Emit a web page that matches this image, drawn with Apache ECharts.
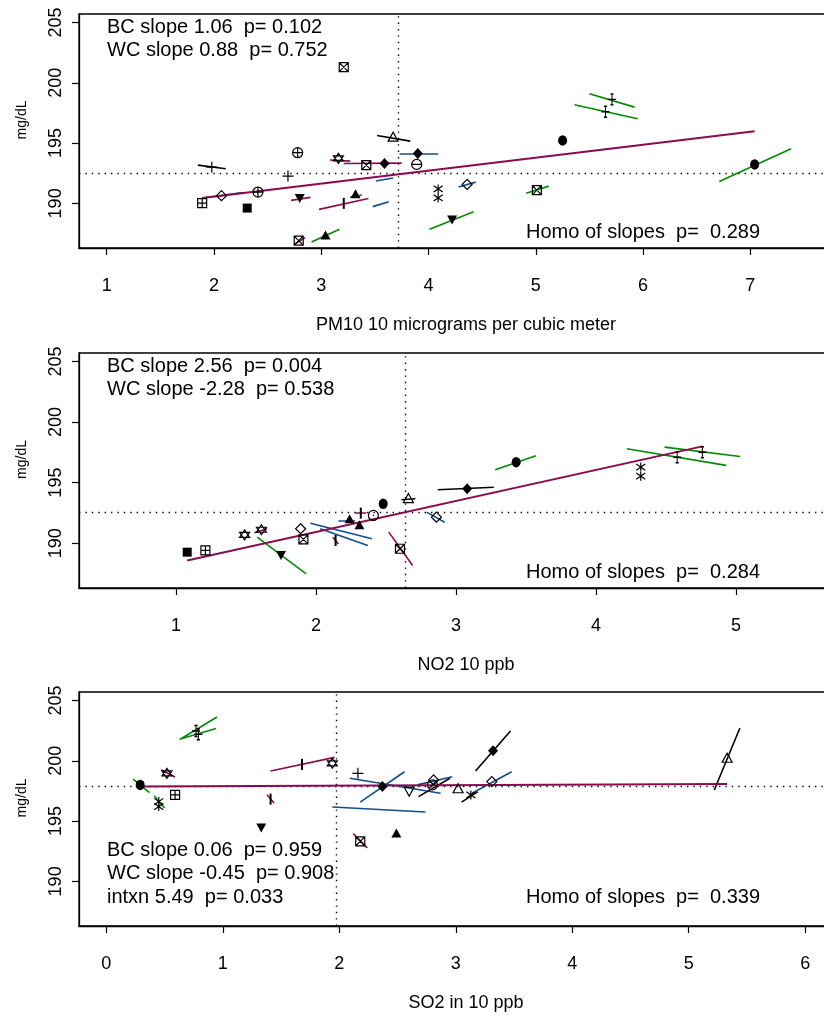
<!DOCTYPE html>
<html>
<head>
<meta charset="utf-8">
<title>BC / WC slopes</title>
<script src="https://cdn.jsdelivr.net/npm/echarts@6/dist/echarts.min.js"></script>
<style>
  html, body { margin: 0; padding: 0; background: #fff; }
  #main { width: 824px; height: 1017px; }
</style>
</head>
<body>
<div id="main"></div>
<script>
// ---- data ----
// points: [x, y, marker]
var pm10Pts = [
  [3.21, 201.29, 'sqx'], [3.67, 195.53, 'tri'], [2.78, 194.20, 'oplus'], [3.16, 193.73, 'david'],
  [3.42, 193.17, 'sqx'], [3.59, 193.31, 'diaF'], [3.90, 194.14, 'diaF'], [3.89, 193.23, 'ominus'],
  [1.98, 193.00, 'plus'], [2.69, 192.26, 'plus'], [1.89, 190.02, 'sqplus'], [2.07, 190.64, 'dia'],
  [2.41, 190.94, 'oplus'], [2.31, 189.61, 'sqF'], [2.80, 190.41, 'triDF'], [3.21, 190.00, 'vbar'],
  [3.32, 190.80, 'triF'], [2.79, 186.91, 'sqx'], [3.04, 187.37, 'triF'], [4.09, 191.20, 'ast'],
  [4.09, 190.45, 'ast'], [4.36, 191.57, 'dia'], [5.01, 191.10, 'sqx'], [4.22, 188.62, 'triDF'],
  [5.25, 195.22, 'dot'], [5.71, 198.62, 'icross'], [5.65, 197.60, 'icross'], [7.04, 193.23, 'dot']
];
// within-city segments: [x1, y1, x2, y2, region]
var pm10Segs = [
  [3.52, 195.63, 3.83, 195.16, 'k'], [3.08, 193.59, 3.27, 193.50, 'm'], [3.21, 193.31, 3.75, 193.34, 'm'],
  [3.73, 194.08, 4.09, 194.08, 'b'], [1.85, 193.17, 2.11, 192.87, 'k'], [1.89, 190.44, 2.27, 190.89, 'b'],
  [2.72, 190.25, 2.90, 190.50, 'm'], [2.98, 189.50, 3.44, 190.41, 'm'], [3.27, 190.52, 3.38, 190.69, 'g'],
  [3.51, 191.85, 3.67, 192.10, 'b'], [3.48, 189.73, 3.63, 190.14, 'b'], [2.75, 186.60, 2.85, 187.16, 'm'],
  [2.91, 186.79, 3.17, 187.85, 'g'], [4.28, 191.35, 4.44, 191.76, 'b'], [4.91, 190.83, 5.12, 191.43, 'g'],
  [4.01, 187.85, 4.42, 189.31, 'g'], [5.50, 199.09, 5.92, 197.98, 'g'], [5.36, 198.18, 5.95, 197.02, 'g'],
  [6.71, 191.82, 7.38, 194.53, 'g']
];
var pm10Bc = [[1.89, 190.44], [7.04, 195.97]];
var pm10Ref = [3.72, 192.49];
var pm10Ticks = [1, 2, 3, 4, 5, 6, 7];
var pm10Notes = ['BC slope 1.06  p= 0.102', 'WC slope 0.88  p= 0.752'];
var pm10Homo = 'Homo of slopes  p=  0.289';
var pm10Title = 'PM10 10 micrograms per cubic meter';

var no2Pts = [
  [1.08, 189.26, 'sqF'], [1.21, 189.40, 'sqplus'], [1.49, 190.69, 'david'], [1.61, 191.11, 'david'],
  [1.89, 191.19, 'dia'], [1.91, 190.31, 'sqx'], [1.75, 188.98, 'triDF'], [2.24, 192.01, 'triF'],
  [2.31, 191.52, 'triF'], [2.14, 190.22, 'vbar'], [2.32, 192.48, 'vbar'], [2.41, 192.29, 'odot'],
  [2.48, 193.25, 'dot'], [2.66, 193.72, 'tri'], [2.60, 189.54, 'sqx'], [2.86, 192.15, 'dia'],
  [3.08, 194.49, 'diaF'], [3.43, 196.69, 'dot'], [4.32, 196.28, 'ast'], [4.32, 195.53, 'ast'],
  [4.58, 197.10, 'icross'], [4.76, 197.51, 'icross']
];
var no2Segs = [
  [1.56, 190.86, 1.65, 191.19, 'm'], [1.58, 190.50, 1.93, 187.47, 'g'], [1.96, 191.65, 2.40, 190.36, 'b'],
  [2.03, 191.19, 2.37, 189.81, 'b'], [2.16, 191.82, 2.28, 191.82, 'b'], [2.12, 190.49, 2.16, 189.94, 'm'],
  [2.28, 192.48, 2.36, 192.48, 'm'], [2.61, 193.59, 2.71, 193.67, 'k'], [2.52, 190.91, 2.69, 188.16, 'm'],
  [2.79, 192.56, 2.92, 191.73, 'b'], [2.87, 194.41, 3.27, 194.62, 'k'], [3.28, 196.06, 3.57, 197.22, 'g'],
  [4.22, 197.80, 4.93, 196.42, 'g'], [4.49, 197.93, 5.03, 197.16, 'g']
];
var no2Bc = [[1.08, 188.57], [4.76, 197.99]];
var no2Ref = [2.64, 192.56];
var no2Ticks = [1, 2, 3, 4, 5];
var no2Notes = ['BC slope 2.56  p= 0.004', 'WC slope -2.28  p= 0.538'];
var no2Homo = 'Homo of slopes  p=  0.284';
var no2Title = 'NO2 10 ppb';

var so2Pts = [
  [0.29, 198.00, 'dot'], [0.52, 198.96, 'david'], [0.59, 197.17, 'sqplus'], [0.45, 196.62, 'ast'],
  [0.45, 196.20, 'ast'], [0.77, 202.47, 'icross'], [0.79, 202.20, 'icross'], [1.68, 199.70, 'vbar'],
  [1.94, 199.79, 'david'], [1.41, 196.82, 'vbar'], [1.33, 194.43, 'triDF'], [2.16, 198.96, 'plus'],
  [2.37, 197.86, 'diaF'], [2.60, 197.44, 'triD'], [2.80, 198.00, 'oslash'], [2.81, 198.41, 'dia'],
  [3.02, 197.72, 'tri'], [2.18, 193.32, 'sqx'], [2.49, 194.01, 'triF'], [3.13, 197.17, 'ast'],
  [3.32, 200.82, 'diaF'], [3.31, 198.27, 'dia'], [5.33, 200.25, 'tri']
];
var so2Segs = [
  [0.23, 198.47, 0.37, 197.36, 'g'], [0.47, 199.23, 0.59, 198.66, 'm'], [0.41, 197.09, 0.50, 196.08, 'g'],
  [0.63, 201.76, 0.95, 203.63, 'g'], [0.65, 201.85, 0.94, 202.67, 'g'], [1.41, 199.15, 1.96, 200.28, 'm'],
  [1.38, 197.18, 1.44, 196.49, 'm'], [2.18, 196.57, 2.56, 199.09, 'b'], [2.09, 198.55, 2.87, 197.31, 'b'],
  [1.94, 196.16, 2.74, 195.75, 'b'], [2.68, 197.03, 2.95, 198.55, 'k'], [2.67, 198.00, 2.97, 198.68, 'b'],
  [2.12, 193.96, 2.24, 192.78, 'm'], [3.05, 196.57, 3.19, 197.44, 'k'], [3.17, 199.15, 3.47, 202.47, 'k'],
  [3.14, 197.31, 3.48, 199.09, 'b'], [5.22, 197.58, 5.44, 202.72, 'k']
];
var so2Bc = [[0.29, 197.86], [5.33, 198.08]];
var so2Ref = [1.97, 197.91];
var so2Ticks = [0, 1, 2, 3, 4, 5, 6];
var so2Notes = ['BC slope 0.06  p= 0.959', 'WC slope -0.45  p= 0.908', 'intxn 5.49  p= 0.033'];
var so2Homo = 'Homo of slopes  p=  0.339';
var so2Title = 'SO2 in 10 ppb';

var yTicks = [190, 195, 200, 205];
var yTitle = 'mg/dL';

// ---- drawing ----
var FONT = '"Liberation Sans", Arial, Helvetica, sans-serif';
var regionColor = { g: '#008B00', b: '#104E8B', m: '#8B0A50', k: '#000000' };
var P = 'path://';
var CIRC = 'M0,5A5,5,0,1,1,10,5A5,5,0,1,1,0,5Z';
var markers = {
  sqx:    { s: P + 'M0,0L10,0L10,10L0,10ZM0,0L10,10M10,0L0,10', size: 9 },
  sqplus: { s: P + 'M0,0L10,0L10,10L0,10ZM5,0L5,10M0,5L10,5', size: 9 },
  oplus:  { s: P + CIRC + 'M5,0L5,10M0,5L10,5', size: 10 },
  ominus: { s: P + CIRC + 'M0,5L10,5', size: 10 },
  odot:   { s: P + CIRC + 'M4.4,5L5.6,5', size: 10 },
  oslash: { s: P + CIRC + 'M1.5,8.5L8.5,1.5', size: 10 },
  tri:    { s: P + 'M5,0L10,9L0,9Z', size: [10, 9] },
  triD:   { s: P + 'M0,0L10,0L5,9Z', size: [10, 9] },
  david:  { s: P + 'M5,0L10,7.5L0,7.5ZM0,2.5L10,2.5L5,10Z', size: 10 },
  dia:    { s: P + 'M5,0L10,5L5,10L0,5Z', size: 10 },
  plus:   { s: P + 'M5,0L5,10M0,5L10,5', size: 11 },
  ast:    { s: P + 'M5,0L5,10M0,1.5L10,8.5M10,1.5L0,8.5', size: 9 },
  icross: { s: P + 'M5,0L5,10M3,0L7,0M3,10L7,10M0,5L10,5', size: [8, 11] },
  triF:   { s: 'triangle', size: [10, 9], fill: true },
  triDF:  { s: P + 'M0,0L10,0L5,9Z', size: [10, 9], fill: true },
  diaF:   { s: 'diamond', size: [10, 11], fill: true },
  sqF:    { s: 'rect', size: 9, fill: true },
  dot:    { s: 'circle', size: [9, 10.5], fill: true },
  vbar:   { s: 'rect', size: [2, 11], fill: true }
};

var YMIN = 186.3, YMAX = 205.7;
var panels = [
  { pts: pm10Pts, segs: pm10Segs, bc: pm10Bc, ref: pm10Ref, ticks: pm10Ticks, xmin: 0.742, xmax: 7.957,
    top: 14, height: 234, notes: pm10Notes, notesY: 27, homo: pm10Homo, title: pm10Title },
  { pts: no2Pts, segs: no2Segs, bc: no2Bc, ref: no2Ref, ticks: no2Ticks, xmin: 0.307, xmax: 5.836,
    top: 353, height: 235, notes: no2Notes, notesY: 366, homo: no2Homo, title: no2Title },
  { pts: so2Pts, segs: so2Segs, bc: so2Bc, ref: so2Ref, ticks: so2Ticks, xmin: -0.235, xmax: 6.411,
    top: 692, height: 234, notes: so2Notes, notesY: 850, homo: so2Homo, title: so2Title }
];

var grids = [], xAxes = [], yAxes = [], series = [], graphics = [];
var LEFT = 79, WIDTH = 774;
var NOTE_FONT = '20px ' + FONT;

panels.forEach(function (p, i) {
  grids.push({ left: LEFT, top: p.top, width: WIDTH, height: p.height, show: true,
    outerBoundsMode: 'none', containLabel: false,
    borderColor: '#000', borderWidth: 1.3, backgroundColor: 'transparent' });
  xAxes.push({ type: 'value', gridIndex: i, min: p.xmin, max: p.xmax,
    axisLine: { show: true, onZero: false, lineStyle: { color: '#000', width: 1.3 } },
    axisTick: { show: true, length: 7, customValues: p.ticks, lineStyle: { color: '#000', width: 1.2 } },
    axisLabel: { customValues: p.ticks, color: '#000', fontSize: 18, fontFamily: FONT, margin: 29 },
    splitLine: { show: false } });
  yAxes.push({ type: 'value', gridIndex: i, min: YMIN, max: YMAX,
    axisLine: { show: true, onZero: false, lineStyle: { color: '#000', width: 1.3 } },
    axisTick: { show: true, length: 7, customValues: yTicks, lineStyle: { color: '#000', width: 1.2 } },
    axisLabel: { customValues: yTicks, rotate: 90, color: '#000', fontSize: 18, fontFamily: FONT, margin: 14 },
    splitLine: { show: false } });

  // dotted reference lines
  series.push({ type: 'lines', coordinateSystem: 'cartesian2d', xAxisIndex: i, yAxisIndex: i,
    silent: true, z: 1, animation: false,
    lineStyle: { color: '#000', width: 1.4, type: [1.4, 5], opacity: 1 },
    data: [
      { coords: [[p.ref[0], YMIN], [p.ref[0], YMAX]] },
      { coords: [[p.xmin, p.ref[1]], [p.xmax, p.ref[1]]] }
    ] });
  // within-city slopes
  series.push({ type: 'lines', coordinateSystem: 'cartesian2d', xAxisIndex: i, yAxisIndex: i,
    silent: true, z: 2, animation: false,
    lineStyle: { width: 1.6, opacity: 1 },
    data: p.segs.map(function (s) {
      return { coords: [[s[0], s[1]], [s[2], s[3]]], lineStyle: { color: regionColor[s[4]] } };
    }) });
  // between-city regression line
  series.push({ type: 'lines', coordinateSystem: 'cartesian2d', xAxisIndex: i, yAxisIndex: i,
    silent: true, z: 3, animation: false,
    lineStyle: { width: 2, color: regionColor.m, opacity: 1 },
    data: [{ coords: p.bc }] });
  // city means
  series.push({ type: 'scatter', xAxisIndex: i, yAxisIndex: i, silent: true, z: 4, animation: false,
    data: p.pts.map(function (d) {
      var m = markers[d[2]];
      return {
        value: [d[0], d[1]], symbol: m.s, symbolSize: m.size,
        itemStyle: m.fill ? { color: '#000', borderWidth: 0, opacity: 1 }
                          : { color: 'rgba(0,0,0,0)', borderColor: '#000', borderWidth: 1.2, opacity: 1 }
      };
    }) });

  // text
  var bottom = p.top + p.height;
  p.notes.forEach(function (t, k) {
    graphics.push({ type: 'text', x: 107, y: p.notesY + k * 23.5, silent: true,
      style: { text: t, font: NOTE_FONT, fill: '#000', verticalAlign: 'middle', textVerticalAlign: 'middle' } });
  });
  graphics.push({ type: 'text', x: 526, y: i === 2 ? 897 : bottom - 16, silent: true,
    style: { text: p.homo, font: NOTE_FONT, fill: '#000', verticalAlign: 'middle', textVerticalAlign: 'middle' } });
  graphics.push({ type: 'text', x: 466, y: bottom + 77, silent: true,
    style: { text: p.title, font: '18px ' + FONT, fill: '#000', align: 'center', textAlign: 'center',
             verticalAlign: 'middle', textVerticalAlign: 'middle' } });
  graphics.push({ type: 'text', x: 22, y: p.top + p.height / 2 - 11, rotation: Math.PI / 2, silent: true,
    style: { text: yTitle, font: '14px ' + FONT, fill: '#000', align: 'center', textAlign: 'center',
             verticalAlign: 'middle', textVerticalAlign: 'middle' } });
});

var chart = echarts.init(document.getElementById('main'));
chart.setOption({
  animation: false,
  backgroundColor: '#fff',
  grid: grids,
  xAxis: xAxes,
  yAxis: yAxes,
  series: series,
  graphic: graphics
});
</script>
</body>
</html>
